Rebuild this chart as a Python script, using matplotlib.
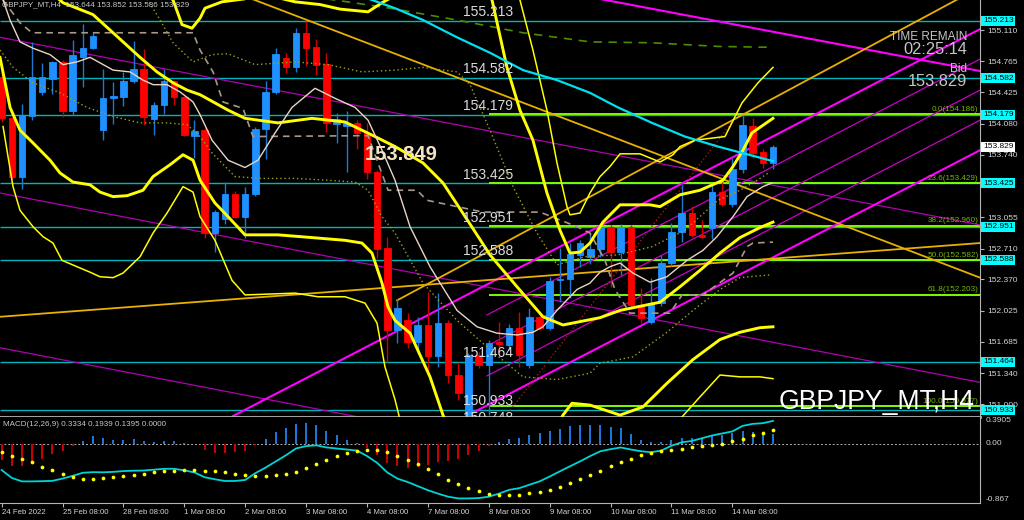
"""GBPJPY_MT H4 chart redrawn in the look of the MT4 terminal: candles,
bollinger bands, moving averages, trend lines, fibo levels and a MACD panel."""

import matplotlib
matplotlib.use('Agg')
import matplotlib.pyplot as plt

plt.rcParams['font.family'] = ['Liberation Sans', 'DejaVu Sans']

# ---- candles, bar 0 = 24 Feb 2022 08:00 ----
opens = [154.59, 154.14, 153.50, 154.17, 154.43, 154.57, 154.76, 154.22, 154.81, 154.91,
         154.01, 154.36, 154.37, 154.55, 154.68, 154.13, 154.29, 154.55, 154.37, 153.95,
         154.01, 152.88, 153.03, 153.31, 153.06, 153.31, 154.02, 154.43, 154.80, 154.70,
         155.08, 154.92, 154.74, 154.08, 154.06, 154.09, 153.98, 153.55, 152.72, 151.82,
         151.93, 151.68, 151.87, 151.53, 151.89, 151.32, 150.88, 151.54, 151.43, 151.68,
         151.65, 151.84, 151.43, 151.96, 151.84, 152.36, 152.37, 152.64, 152.62, 152.71,
         152.95, 152.67, 152.95, 152.09, 151.90, 152.11, 152.55, 152.89, 153.10, 152.86,
         152.94, 153.33, 153.20, 153.58, 154.06, 153.77, 153.644]
highs = [154.66, 154.16, 154.30, 154.98, 154.75, 154.77, 154.78, 155.00, 155.18, 155.09,
         154.68, 154.54, 154.65, 154.99, 154.90, 154.32, 154.68, 154.56, 154.38, 154.12,
         154.03, 153.13, 153.44, 153.34, 153.39, 154.04, 154.55, 154.91, 154.86, 155.13,
         155.21, 155.01, 154.86, 154.20, 154.22, 154.12, 154.09, 153.57, 152.84, 152.16,
         152.00, 151.96, 152.23, 152.22, 151.93, 151.46, 151.56, 151.57, 151.70, 151.90,
         151.88, 152.01, 152.06, 151.99, 152.40, 152.72, 152.77, 152.80, 152.88, 152.99,
         152.97, 152.98, 152.97, 152.28, 152.39, 152.64, 152.99, 153.41, 153.18, 153.02,
         153.43, 153.44, 153.70, 154.18, 154.14, 153.80, 153.852]
lows = [154.10, 153.47, 153.36, 154.12, 154.40, 154.41, 154.16, 154.18, 154.48, 154.90,
        153.90, 154.08, 154.28, 154.53, 154.07, 153.96, 154.19, 154.29, 153.95, 153.70,
        152.83, 152.67, 152.98, 153.04, 152.83, 153.29, 153.69, 154.41, 154.64, 154.65,
        154.72, 154.62, 153.99, 153.87, 153.55, 153.80, 153.47, 152.61, 151.46, 151.67,
        151.62, 151.55, 151.34, 151.41, 151.23, 151.05, 150.75, 151.40, 150.88, 151.55,
        151.59, 151.41, 151.40, 151.82, 151.82, 152.12, 152.17, 152.51, 152.54, 152.62,
        152.29, 152.42, 152.04, 151.89, 151.88, 152.08, 152.52, 152.78, 152.84, 152.82,
        152.81, 153.18, 153.17, 153.54, 153.72, 153.59, 153.586]
closes = [154.14, 153.50, 154.18, 154.59, 154.59, 154.76, 154.22, 154.84, 154.91, 155.05,
          154.36, 154.38, 154.55, 154.68, 154.16, 154.29, 154.55, 154.37, 153.96, 154.00,
          152.88, 153.11, 153.31, 153.06, 153.31, 154.02, 154.43, 154.85, 154.70, 155.08,
          154.91, 154.73, 154.09, 154.13, 154.09, 153.98, 153.55, 152.71, 151.82, 152.06,
          151.68, 151.87, 151.53, 151.89, 151.32, 151.12, 151.54, 151.43, 151.67, 151.66,
          151.84, 151.54, 151.96, 151.84, 152.35, 152.37, 152.65, 152.77, 152.71, 152.95,
          152.67, 152.95, 152.09, 151.95, 152.11, 152.55, 152.89, 153.10, 152.86, 152.84,
          153.33, 153.20, 153.58, 154.07, 153.76, 153.65, 153.829]

# ---- MACD(12,26,9) ----
macd_hist = [-0.234, -0.331, -0.331, -0.283, -0.224, -0.151, -0.112, -0.039, 0.044, 0.107,
             0.083, 0.058, 0.058, 0.073, 0.044, 0.019, 0.034, 0.034, 0.010, 0.003,
             -0.097, -0.136, -0.136, -0.127, -0.112, -0.024, 0.068, 0.171, 0.229, 0.288,
             0.297, 0.278, 0.190, 0.132, 0.058, 0.015, -0.063, -0.161, -0.283, -0.331,
             -0.356, -0.346, -0.307, -0.273, -0.249, -0.224, -0.161, -0.112, -0.039, 0.019,
             0.068, 0.083, 0.132, 0.156, 0.190, 0.219, 0.253, 0.268, 0.278, 0.278,
             0.239, 0.229, 0.146, 0.058, 0.024, 0.024, 0.049, 0.083, 0.083, 0.083,
             0.122, 0.132, 0.156, 0.180, 0.171, 0.171, 0.1395]
macd_main = [-0.385, -0.50, -0.551, -0.551, -0.548, -0.543, -0.51, -0.47, -0.425, -0.416,
             -0.418, -0.412, -0.40, -0.395, -0.392, -0.38, -0.367, -0.367, -0.39, -0.42,
             -0.49, -0.52, -0.545, -0.545, -0.53, -0.43, -0.35, -0.26, -0.17, -0.07,
             -0.035, -0.024, -0.054, -0.07, -0.085, -0.10, -0.18, -0.28, -0.42, -0.51,
             -0.56, -0.62, -0.68, -0.73, -0.775, -0.80, -0.80, -0.795, -0.775, -0.73,
             -0.675, -0.65, -0.60, -0.551, -0.48, -0.404, -0.33, -0.258, -0.18, -0.11,
             -0.08, -0.055, -0.085, -0.11, -0.125, -0.10, -0.03, 0.02, 0.04, 0.08,
             0.12, 0.15, 0.18, 0.26, 0.29, 0.30, 0.3334]
macd_signal = [-0.127, -0.175, -0.224, -0.273, -0.346, -0.390, -0.439, -0.487, -0.517, -0.512,
               -0.507, -0.492, -0.478, -0.458, -0.439, -0.419, -0.404, -0.395, -0.390, -0.385,
               -0.395, -0.404, -0.419, -0.439, -0.463, -0.473, -0.478, -0.463, -0.448, -0.414,
               -0.356, -0.297, -0.244, -0.185, -0.141, -0.112, -0.093, -0.097, -0.127, -0.175,
               -0.234, -0.297, -0.370, -0.448, -0.526, -0.585, -0.653, -0.697, -0.731, -0.746,
               -0.746, -0.746, -0.726, -0.707, -0.673, -0.633, -0.575, -0.517, -0.458, -0.395,
               -0.322, -0.273, -0.219, -0.171, -0.136, -0.112, -0.097, -0.073, -0.054, -0.039,
               -0.024, 0.0, 0.034, 0.073, 0.122, 0.156, 0.1939]

# ---- indicator lines (bar index, price) ----
bb_mid_x = [4.77, 6.05, 9.00, 10.98, 13.64, 15.31, 16.89, 18.27, 19.55, 22.31, 23.98, 27.23,
            30.58, 33.83, 36.79, 38.76, 41.52, 43.49, 45.85, 48.12, 50.78, 53.34, 55.31, 58.96,
            60.93, 64.87, 66.84, 68.81, 70.78, 72.75, 74.72, 76.00]
bb_mid_p = [155.53, 155.41, 155.28, 155.08, 154.81, 154.65, 154.53, 154.45, 154.40, 154.23,
            154.14, 154.09, 154.14, 154.10, 153.94, 153.83, 153.65, 153.43, 153.03, 152.64,
            152.29, 151.96, 151.87, 151.95, 152.03, 152.12, 152.29, 152.47, 152.66, 152.83,
            152.94, 153.00]
bb_up2_x = [14.62, 16.89, 17.77, 18.76, 19.55, 20.04, 21.71, 24.47, 27.43, 28.91, 31.37, 33.34,
            36.10, 37.48, 38.76, 41.22, 47.13, 48.32, 49.79, 51.07, 52.35, 53.73, 55.02, 56.00,
            56.99, 57.97, 59.25, 60.93, 63.88, 64.87, 66.84, 68.81, 71.07, 72.06, 73.05, 73.93,
            76.00]
bb_up2_p = [155.66, 155.44, 155.17, 155.13, 155.24, 155.35, 155.42, 155.46, 155.46, 155.42,
            155.39, 155.34, 155.31, 155.41, 155.49, 155.88, 155.88, 155.44, 154.70, 154.23,
            153.90, 153.32, 152.91, 152.66, 152.67, 152.77, 153.00, 153.19, 153.19, 153.17,
            153.30, 153.35, 153.46, 153.61, 153.79, 153.98, 154.14]
bb_lo2_x = [-0.16, 0.83, 1.81, 3.09, 4.77, 5.75, 7.03, 8.71, 9.69, 10.98, 12.36, 13.93, 14.92,
            16.59, 17.87, 18.86, 19.55, 21.02, 22.31, 23.98, 27.23, 30.58, 33.83, 35.51, 36.49,
            37.48, 38.07, 38.76, 40.24, 42.21, 43.49, 45.16, 52.06, 54.52, 55.31, 56.20, 57.97,
            60.93, 63.19, 65.56, 68.12, 70.78, 72.75, 74.72, 76.00]
bb_lo2_p = [154.81, 154.26, 154.01, 153.87, 153.68, 153.54, 153.44, 153.41, 153.33, 153.28,
            153.29, 153.35, 153.50, 153.63, 153.74, 153.68, 153.46, 153.21, 153.06, 152.86,
            152.86, 152.83, 152.80, 152.77, 152.66, 152.33, 152.07, 151.92, 151.78, 151.30,
            150.88, 150.39, 150.28, 150.72, 150.88, 151.01, 150.99, 150.88, 150.97, 151.23,
            151.49, 151.71, 151.79, 151.84, 151.85]
bb_up3_x = [49.59, 51.07, 52.35, 53.73, 54.72, 55.70, 56.00, 56.99, 57.97, 58.96, 59.94, 60.93,
            62.90, 64.87, 66.15, 66.84, 68.31, 71.27, 72.95, 74.52, 76.00]
bb_up3_p = [155.77, 155.44, 154.89, 154.23, 153.65, 153.17, 153.08, 153.10, 153.32, 153.50,
            153.61, 153.75, 153.75, 153.66, 153.74, 153.83, 153.90, 153.94, 154.31, 154.53,
            154.70]
bb_lo3_x = [0.14, 1.12, 1.81, 3.09, 4.08, 5.06, 5.95, 7.43, 8.71, 9.69, 10.98, 11.96, 13.64,
            14.92, 16.30, 17.87, 18.86, 19.55, 21.02, 22.70, 23.98, 28.91, 31.17, 33.83, 35.81,
            36.99, 37.77, 38.76, 39.74, 65.85, 67.04, 68.81, 70.78, 72.75, 74.72, 76.00]
bb_lo3_p = [154.05, 153.39, 153.13, 152.95, 152.84, 152.77, 152.58, 152.51, 152.45, 152.40,
            152.39, 152.44, 152.62, 152.88, 153.10, 153.39, 153.33, 153.06, 152.80, 152.36,
            152.20, 152.22, 152.18, 152.18, 152.11, 151.89, 151.41, 151.05, 150.61, 150.61,
            150.86, 151.08, 151.32, 151.30, 151.30, 151.28]
ma_fast_x = [0.14, 0.83, 1.81, 3.09, 4.77, 6.05, 7.43, 8.71, 9.69, 10.98, 12.65, 13.93, 14.92,
             16.30, 17.58, 18.86, 19.55, 20.73, 22.31, 23.98, 25.26, 26.94, 28.61, 30.88, 32.85,
             34.82, 36.10, 37.48, 38.76, 40.24, 42.21, 44.87, 46.84, 48.81, 50.78, 52.35, 53.34,
             54.72, 56.69, 57.97, 58.96, 59.94, 60.93, 62.21, 63.88, 65.56, 67.53, 69.10, 70.48,
             72.06, 73.44, 75.01, 75.90]
ma_fast_p = [155.44, 155.22, 154.98, 154.91, 154.84, 154.73, 154.76, 154.81, 154.75, 154.67,
             154.65, 154.56, 154.51, 154.51, 154.43, 154.32, 154.18, 153.90, 153.68, 153.60,
             153.68, 153.98, 154.26, 154.47, 154.36, 154.26, 154.12, 153.79, 153.46, 152.95,
             152.51, 152.03, 151.85, 151.78, 151.76, 151.79, 151.85, 152.03, 152.26, 152.33,
             152.45, 152.51, 152.55, 152.44, 152.34, 152.40, 152.58, 152.69, 152.84, 153.06,
             153.28, 153.39, 153.43]
kijun_x = [0.14, 1.81, 2.99, 18.86, 19.55, 20.83, 21.81, 23.78, 24.77, 36.10, 38.07, 40.93,
           41.91, 44.87, 47.43, 53.04, 56.69, 57.97, 59.45, 60.43, 61.91, 65.85, 67.04, 69.10,
           72.06, 73.44, 74.03, 76.00]
kijun_p = [155.44, 155.19, 155.08, 155.08, 154.89, 154.65, 154.32, 154.25, 153.94, 153.95,
           153.35, 153.35, 153.24, 153.17, 153.11, 153.11, 152.95, 152.88, 152.58, 152.26,
           152.00, 152.00, 152.20, 152.20, 152.44, 152.73, 152.77, 152.78]
dot_up_x = [14.13, 15.61, 16.89, 18.86, 20.73, 22.31, 24.97, 28.91, 32.16, 35.51, 38.76, 41.52,
            44.87, 46.15, 48.12, 50.39, 52.75, 54.72, 57.48, 60.73, 64.08, 67.33, 70.58, 72.75,
            74.43, 75.70]
dot_up_p = [155.49, 155.22, 154.97, 154.76, 154.84, 154.85, 154.73, 154.76, 154.73, 154.65,
            154.67, 154.70, 154.65, 154.51, 154.01, 153.39, 152.88, 152.53, 152.62, 152.64,
            152.73, 152.91, 153.24, 153.35, 153.46, 153.55]
dot_lo_x = [-0.16, 1.12, 3.09, 5.75, 8.41, 10.98, 13.64, 16.30, 18.27, 19.55, 20.73, 22.99,
            25.66, 28.91, 32.16, 34.82, 36.10, 37.48, 38.76, 41.52, 44.87, 48.12, 51.37, 54.72,
            57.97, 58.96, 62.21, 65.56, 68.12, 70.78, 72.75, 75.70]
dot_lo_p = [154.89, 154.70, 154.53, 154.42, 154.26, 154.16, 154.09, 154.09, 154.07, 153.94,
            153.76, 153.50, 153.48, 153.48, 153.46, 153.44, 153.35, 153.06, 152.88, 152.33,
            151.92, 151.60, 151.30, 151.27, 151.34, 151.45, 151.52, 151.79, 152.03, 152.26,
            152.39, 152.42]
ma_slow_x = [35.31, 36.49, 38.76, 41.52, 44.87, 48.12, 51.37, 54.72, 57.97, 60.73, 64.08,
             67.33, 70.58, 72.95, 76.00]
ma_slow_p = [155.49, 155.44, 155.35, 155.22, 155.03, 154.86, 154.67, 154.56, 154.42, 154.26,
             154.09, 153.94, 153.83, 153.76, 153.67]
ma_long_x = [30.00, 32.85, 38.27, 44.87, 51.37, 57.97, 64.08, 70.58, 76.00]
ma_long_p = [155.48, 155.44, 155.35, 155.22, 155.08, 154.98, 154.97, 154.93, 154.92]

# ---- drawn objects: straight lines as ((bar, price), (bar, price)) ----
orange_lines = [((19.55, 155.67), (96.40, 152.39)),
                ((-0.16, 151.96), (96.40, 152.77)),
                ((38.96, 152.14), (96.40, 155.58))]
channel_thick = [((22.80, 150.87), (96.40, 155.12)),
                 ((46.15, 150.89), (96.40, 153.79)),
                 ((49.10, 155.66), (96.40, 154.66))]
channel_thin = [((47.82, 151.98), (96.40, 154.79)),
                ((47.82, 151.64), (96.40, 154.45)),
                ((47.82, 151.31), (96.40, 154.12))]
purple_lines = [((-0.16, 155.03), (96.40, 152.97)),
                ((-0.16, 153.32), (96.40, 151.24)),
                ((-0.16, 151.62), (96.40, 149.54))]
red_dotted = [((49.89, 150.90), (72.26, 154.14))]

hlevels = [155.213, 154.582, 154.179, 153.425, 152.951, 152.588, 151.464, 150.933]
low_level = 150.748
fibo_pct = ['0.0', '23.6', '38.2', '50.0', '61.8', '100.0']
fibo_price = [154.186, 153.429, 152.960, 152.582, 152.203, 150.977]
fibo_start = 48.0

price_ticks = [155.110, 154.765, 154.425, 154.080, 153.740, 153.055, 152.710, 152.370,
               152.025, 151.685, 151.340, 151.000]
date_bars = [0, 6, 12, 18, 24, 30, 36, 42, 48, 54, 60, 66, 72]
date_labels = ['24 Feb 2022', '25 Feb 08:00', '28 Feb 08:00', '1 Mar 08:00', '2 Mar 08:00',
               '3 Mar 08:00', '4 Mar 08:00', '7 Mar 08:00', '8 Mar 08:00', '9 Mar 08:00',
               '10 Mar 08:00', '11 Mar 08:00', '14 Mar 08:00']
symbol = 'GBPJPY_MT,H4'
label_price = 153.849
bid = 153.829

BULL = '#1e90ff'
BEAR = '#ff0000'
AXIS = '#b4b4b4'
TEXT = '#d4d4d4'
W, H = 1024, 520


def fpos(x, y):
    """pixel position -> figure fraction"""
    return x / W, 1 - y / H


def draw_segments(ax, segs, **kw):
    for (x0, p0), (x1, p1) in segs:
        ax.plot([x0, x1], [p0, p1], **kw)


def draw_price_panel(ax):
    ax.set_facecolor('black')
    ax.set_xlim(-0.16, 96.40)
    ax.set_ylim(150.859, 155.44)

    ax.hlines(hlevels, -0.16, 96.40, color='#00b4bc', lw=1.0, zorder=1)
    for lv in hlevels:
        ax.text(45.45, lv + 0.02, f'{lv:.3f}', fontsize=10, color='#dcdcdc',
                va='bottom', ha='left', zorder=6)
    ax.text(45.45, low_level + 0.02, f'{low_level:.3f}', fontsize=10, color='#dcdcdc',
            va='bottom', ha='left', zorder=6, clip_on=True)

    ax.hlines(fibo_price, fibo_start, 96.40, color='#7cfc00', lw=1.4, zorder=1.2)
    for pct, lv in zip(fibo_pct, fibo_price):
        ax.text(96.25, lv + 0.015, f'{pct}({lv:.3f})', fontsize=5.9, color='#78b400',
                va='bottom', ha='right', zorder=5)

    draw_segments(ax, purple_lines, color='#b000b0', lw=0.9, zorder=1.3)
    draw_segments(ax, channel_thin, color='#c800c8', lw=0.9, zorder=1.3)
    draw_segments(ax, channel_thick, color='#ff00ff', lw=1.5, zorder=1.4)
    draw_segments(ax, orange_lines, color='#e8b000', lw=1.3, zorder=1.4)
    draw_segments(ax, red_dotted, color='#a01818', lw=1.0, ls=':', zorder=1.4)

    # candles
    xs = list(range(len(opens)))
    up = [c >= o for o, c in zip(opens, closes)]
    body_col = [BULL if u else BEAR for u in up]
    wick_col = ['#1e78d2' if u else '#d00000' for u in up]
    ax.vlines(xs, lows, highs, colors=wick_col, lw=1.0, zorder=2)
    ax.bar(xs, [c - o for o, c in zip(opens, closes)], bottom=opens, width=0.64,
           color=body_col, edgecolor=body_col, linewidth=0.6, zorder=2.1)

    # indicators
    ax.plot(ma_long_x, ma_long_p, color='#4c8c00', lw=1.2, ls=(0, (5, 4)), zorder=3)
    ax.plot(dot_up_x, dot_up_p, color='#a0a020', lw=1.0, ls=(0, (1, 2)), zorder=3)
    ax.plot(dot_lo_x, dot_lo_p, color='#a0a020', lw=1.0, ls=(0, (1, 2)), zorder=3)
    ax.plot(kijun_x, kijun_p, color='#a89888', lw=1.2, ls=(0, (4, 3)), zorder=3)
    ax.plot(bb_up3_x, bb_up3_p, color='#ffff00', lw=1.1, zorder=3.1)
    ax.plot(bb_lo3_x, bb_lo3_p, color='#ffff00', lw=1.1, zorder=3.1)
    ax.plot(bb_up2_x, bb_up2_p, color='#ffff00', lw=2.1, zorder=3.2)
    ax.plot(bb_lo2_x, bb_lo2_p, color='#ffff00', lw=2.1, zorder=3.2)
    ax.plot(bb_mid_x, bb_mid_p, color='#ffff00', lw=2.1, zorder=3.2)
    ax.plot(ma_fast_x, ma_fast_p, color='#ead6c6', lw=1.0, zorder=3.3)
    ax.plot(ma_slow_x, ma_slow_p, color='#00e0f0', lw=1.6, zorder=3.3)

    ax.text(35.8, label_price - 0.11, f'{label_price:.3f}', fontsize=14.5,
            fontweight='bold', color='#f4e2c4', va='center', ha='left', zorder=6)

    # right price scale
    ax.yaxis.tick_right()
    ax.set_yticks(price_ticks)
    ax.set_yticklabels([f'{t:.3f}' for t in price_ticks])
    ax.tick_params(axis='y', colors=AXIS, labelcolor=TEXT, labelsize=6, length=3,
                   width=0.8, pad=2)
    ax.set_xticks([])
    tr = ax.get_yaxis_transform()
    for lv in hlevels:
        ax.text(1.003, lv, f'{lv:.3f}', transform=tr, fontsize=6, color='black',
                va='center', ha='left', clip_on=False, zorder=7,
                bbox=dict(boxstyle='square,pad=0.18', fc='#00ffff', ec='none'))
    ax.text(1.003, bid, f'{bid:.3f}', transform=tr, fontsize=6, color='black',
            va='center', ha='left', clip_on=False, zorder=7,
            bbox=dict(boxstyle='square,pad=0.18', fc='white', ec='none'))

    for side in ('left', 'top'):
        ax.spines[side].set_visible(False)
    ax.spines['right'].set_color(AXIS)
    ax.spines['bottom'].set_color(AXIS)
    ax.spines['bottom'].set_linewidth(2)


def draw_macd_panel(mx):
    mx.set_facecolor('black')
    mx.set_xlim(-0.16, 96.40)
    mx.set_ylim(-0.867, 0.3905)
    xs = list(range(len(macd_hist)))
    cols = ['#1e78e0' if v >= 0 else '#d00000' for v in macd_hist]
    mx.axhline(0, color='#b0b0b0', lw=0.7, ls=(0, (2, 2)), zorder=1)
    mx.vlines(xs, 0, macd_hist, colors=cols, lw=1.4, zorder=2)
    mx.plot(xs, macd_main, color='#00d4d4', lw=1.3, zorder=3)
    mx.plot(xs, macd_signal, 'o', color='#ffff00', ms=2.7, mec='none', zorder=4)

    mx.set_yticks([])
    tr = mx.get_yaxis_transform()
    mx.text(1.006, 0.3905, '0.3905', transform=tr, fontsize=6, color=TEXT,
            va='top', ha='left', clip_on=False)
    mx.text(1.006, 0.0, '0.00', transform=tr, fontsize=6, color=TEXT,
            va='center', ha='left', clip_on=False)
    mx.text(1.006, -0.867, '-0.867', transform=tr, fontsize=6, color=TEXT,
            va='bottom', ha='left', clip_on=False)

    mx.set_xticks(date_bars)
    mx.set_xticklabels(date_labels, ha='left')
    mx.tick_params(axis='x', colors=AXIS, labelcolor=TEXT, labelsize=5.6, length=3,
                   width=0.8, pad=1.5)
    for side in ('left', 'top'):
        mx.spines[side].set_visible(False)
    mx.spines['right'].set_color(AXIS)
    mx.spines['bottom'].set_color(AXIS)


if __name__ == "__main__":
    fig = plt.figure(figsize=(W / 100, H / 100), dpi=100, facecolor='black')
    ax = fig.add_axes([0, 103 / H, 980 / W, 417 / H])
    mx = fig.add_axes([0, 17 / H, 980 / W, 86 / H])
    draw_price_panel(ax)
    draw_macd_panel(mx)

    header = f'{symbol}  {opens[-1]:.3f} {highs[-1]:.3f} {lows[-1]:.3f} {closes[-1]:.3f}'
    fig.text(*fpos(2, 5), header, fontsize=5.8, color='#c8c8c8', va='center', ha='left')
    fig.text(*fpos(3, 424), 'MACD(12,26,9) 0.3334 0.1939 0.1395 0.0000', fontsize=5.8,
             color='#c8c8c8', va='center', ha='left')
    fig.text(*fpos(967, 37), 'TIME REMAIN', fontsize=8.5, color='#c4c4c4', ha='right', va='center')
    fig.text(*fpos(967, 50), '02:25:14', fontsize=11.8, color='#c4c4c4', ha='right', va='center')
    fig.text(*fpos(967, 69), 'Bid', fontsize=8.5, color='#c4c4c4', ha='right', va='center')
    fig.text(*fpos(967, 82), f'{bid:.3f}', fontsize=11.8, color='#c4c4c4', ha='right', va='center')
    fig.text(*fpos(975, 409), symbol, fontsize=19.2, color='white', ha='right', va='baseline')

    fig.savefig('out.png', dpi=100, facecolor='black')
